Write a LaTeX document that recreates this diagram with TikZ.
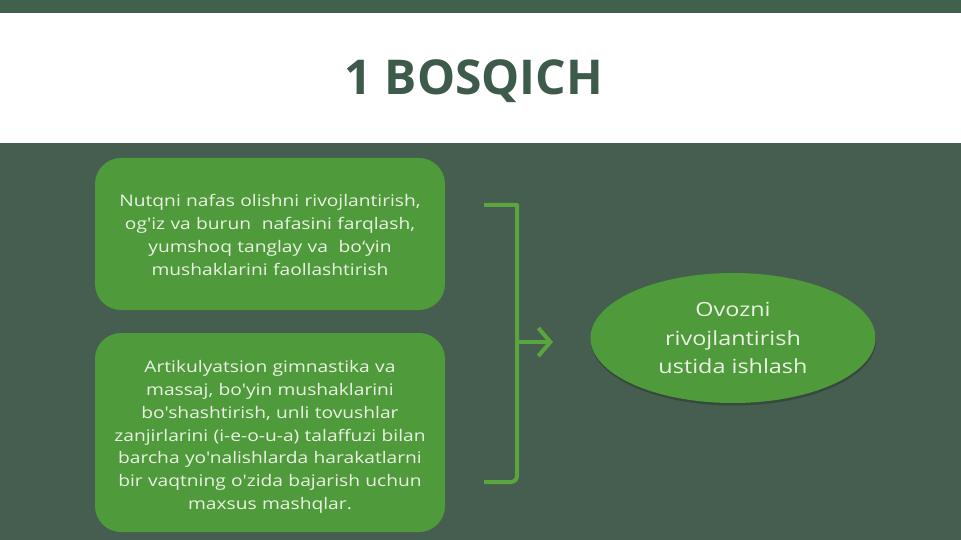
\documentclass[tikz,border=0pt]{standalone}
\usepackage{fontspec}
\setmainfont{Open Sans}[Ligatures=TeXOff]
\newfontfamily\widefont{Open Sans}[Ligatures=TeXOff,FakeStretch=1.2]
\usetikzlibrary{arrows.meta,shapes.geometric}
\definecolor{bgdark}{HTML}{465E4F}
\definecolor{topband}{HTML}{42604E}
\definecolor{titlecol}{HTML}{3E5A4B}
\definecolor{boxgreen}{HTML}{4F9A3A}
\definecolor{linegreen}{HTML}{5AA53E}
\definecolor{txtlight}{HTML}{EAF2E4}
\tikzset{
  px/.style={x=1pt,y=-1pt},
  greenbox/.style={rounded corners=26pt, fill=boxgreen, draw=none, minimum width=350pt, inner sep=0pt},
  boxtext/.style={align=center, text=txtlight, font=\widefont\fontsize{16}{22.8}\selectfont, text width=330pt, inner sep=0pt},
  oval/.style={ellipse, fill=boxgreen, draw=none, minimum width=285pt, minimum height=130pt,
    align=center, text=txtlight, font=\widefont\fontsize{19.5}{28.5}\selectfont, inner sep=0pt},
  brack/.style={draw=linegreen, line width=4pt, line join=round},
  arr/.style={draw=linegreen, line width=4pt, -{Straight Barb[length=12pt,width=28pt]}}
}
\begin{document}
\begin{tikzpicture}[px]
\useasboundingbox (0,0) rectangle (961,540);
\fill[bgdark] (0,0) rectangle (961,540);
\fill[topband] (0,0) rectangle (961,13);
\fill[white] (0,13) rectangle (961,143);
\node[text=titlecol, font=\fontsize{48}{52}\bfseries\selectfont] (title) at (474,81) {1 BOSQICH};

\node[greenbox, minimum height=152pt] (b1) at (270,234) {};
\node[boxtext] (b1t) at (270,235)
  {Nutqni nafas olishni rivojlantirish,\\og'iz va burun\ \ nafasini farqlash,\\yumshoq tanglay va\ \ bo‘yin\\mushaklarini faollashtirish};
\node[greenbox, minimum height=199pt] (b2) at (270,432.5) {};
\node[boxtext] (b2t) at (270,437)
  {Artikulyatsion gimnastika va\\massaj, bo'yin mushaklarini\\bo'shashtirish, unli tovushlar\\zanjirlarini (i-e-o-u-a) talaffuzi bilan\\barcha yo'nalishlarda harakatlarni\\bir vaqtning o'zida bajarish uchun\\maxsus mashqlar.};

\fill[black, opacity=0.22] (733.5,340.5) ellipse [x radius=142.5pt, y radius=65pt];
\node[oval] (ov) at (733,338) {Ovozni\\rivojlantirish\\ustida ishlash};

\coordinate (bt) at (484,205);
\coordinate (bb) at (484,482);
\coordinate (bm) at (517,342);
\coordinate (tip) at (553,342);
\draw[brack] (bt) -- (517,205) -- (517,476) to[out=-90,in=0] (511,482) -- (bb);
\draw[arr] (bm) -- (tip);
\end{tikzpicture}
\end{document}
